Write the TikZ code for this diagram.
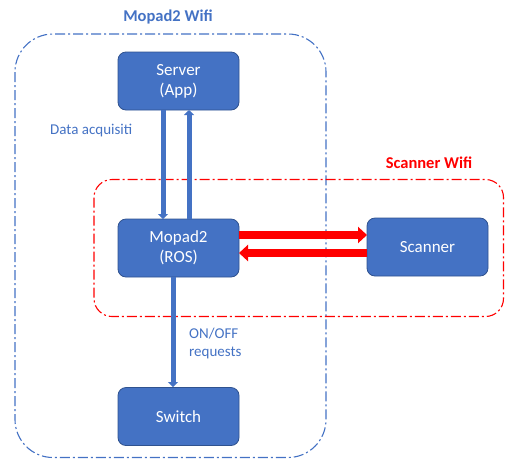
\documentclass[tikz,border=0pt]{standalone}
\usepackage{fontspec}
\setmainfont{Carlito}
\usetikzlibrary{arrows.meta}
\definecolor{boxblue}{HTML}{4472C4}
\definecolor{boxedge}{HTML}{2F528F}
\definecolor{wifired}{HTML}{FF0000}
\begin{document}
\begin{tikzpicture}[x=1pt,y=-1pt,
  unit/.style={draw=boxedge, fill=boxblue, line width=0.8pt, rounded corners=8pt,
    minimum width=121pt, minimum height=58pt, text=white, font=\fontsize{17}{20}\selectfont,
    align=center, inner sep=0pt},
  zone/.style={line width=1.1pt, rounded corners=38pt,
    dash pattern=on 10pt off 3pt on 2pt off 3pt},
  link/.style={draw=boxblue, line width=5pt, -{Triangle[width=10pt,length=5pt]}},
  radio/.style={draw=wifired, line width=8pt, -{Triangle[width=16pt,length=9pt]}},
  note/.style={text=boxblue, font=\fontsize{15}{18}\selectfont, align=left, inner sep=0pt}]
\useasboundingbox (0,0) rectangle (505,459);

% network zones
\draw[zone, draw=boxblue] (15,34) rectangle (326,457.5);
\draw[zone, draw=wifired, rounded corners=18pt] (94,179.5) rectangle (503.5,316.5);
\node[text=boxblue, font=\bfseries\fontsize{16.5}{19}\selectfont] (blueTitle) at (168,17) {Mopad2 Wifi};
\node[text=wifired, font=\bfseries\fontsize{16.5}{19}\selectfont] (redTitle) at (429,163) {Scanner Wifi};

% components
\node[unit] (server)  at (178.5,81)  {Server\\(App)};
\node[unit] (mopad)   at (178.5,248) {Mopad2\\(ROS)};
\node[unit] (scanner) at (427.5,247) {Scanner};
\node[unit] (switch)  at (178.5,416.5) {Switch};

% links
\coordinate (sA) at (163,110); \coordinate (mA) at (163,219);
\coordinate (sB) at (189,110); \coordinate (mB) at (189,219);
\coordinate (mC) at (173,277); \coordinate (wC) at (173,387);
\draw[link] (sA) -- (mA);
\draw[link] (mB) -- (sB);
\draw[link] (mC) -- (wC);

\coordinate (mR1) at (239,235); \coordinate (sL1) at (367,235);
\coordinate (mR2) at (239,253); \coordinate (sL2) at (367,253);
\draw[radio] (mR1) -- (sL1);
\draw[radio] (sL2) -- (mR2);

% labels
\node[note, anchor=west] (acq) at (50,131) {Data acquisiti};
\node[note, anchor=north west] (onoff) at (189,328) {ON/OFF\\requests};
\end{tikzpicture}
\end{document}
